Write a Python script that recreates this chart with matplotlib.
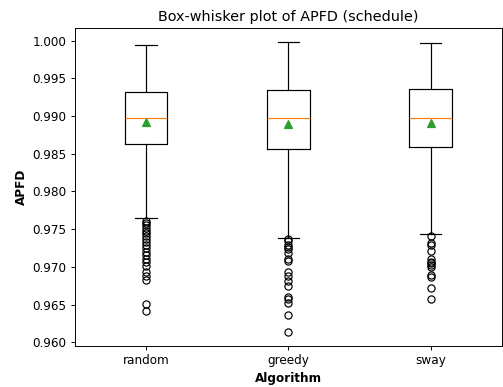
import matplotlib
matplotlib.use("Agg")
import matplotlib.pyplot as plt

algorithms = ["random", "greedy", "sway"]

whis_low = [0.97654, 0.97385, 0.97442]
q1 = [0.98633, 0.98557, 0.98584]
medians = [0.98974, 0.98974, 0.98974]
means = [0.98915, 0.98894, 0.98911]
q3 = [0.99323, 0.99340, 0.99359]
whis_high = [0.99938, 0.99987, 0.99969]

fliers_random = [0.9761, 0.9758, 0.9755, 0.9752, 0.9748, 0.9745, 0.9741, 0.9737,
                 0.9733, 0.9729, 0.9725, 0.9720, 0.9716, 0.9711, 0.9706, 0.9701,
                 0.9693, 0.9688, 0.9683, 0.9651, 0.9642]
fliers_greedy = [0.97368, 0.97336, 0.97292, 0.97269, 0.97235, 0.97182, 0.97102,
                 0.97080, 0.96937, 0.96880, 0.96818, 0.96748, 0.96598, 0.96571,
                 0.96526, 0.96363, 0.96141]
fliers_sway = [0.97411, 0.97314, 0.97292, 0.97216, 0.97102, 0.97070, 0.97049,
               0.97022, 0.97004, 0.96894, 0.96871, 0.96717, 0.96571]
fliers = [fliers_random, fliers_greedy, fliers_sway]

stats = []
for i, name in enumerate(algorithms):
    stats.append(dict(label=name, whislo=whis_low[i], q1=q1[i], med=medians[i],
                      mean=means[i], q3=q3[i], whishi=whis_high[i], fliers=fliers[i]))

DPI = 86
fig = plt.figure(figsize=(503 / DPI, 387 / DPI), dpi=DPI)
ax = fig.add_axes([0.149, 0.106, 0.849, 0.822])
ax.bxp(stats, showmeans=True)
ax.set_xlim(0.5, 3.5)
ax.set_ylim(0.9595, 1.0017)
ax.set_title("Box-whisker plot of APFD (schedule)")
ax.set_xlabel("Algorithm", fontweight="bold")
ax.set_ylabel("APFD", fontweight="bold")
fig.savefig("out.png", dpi=DPI)
